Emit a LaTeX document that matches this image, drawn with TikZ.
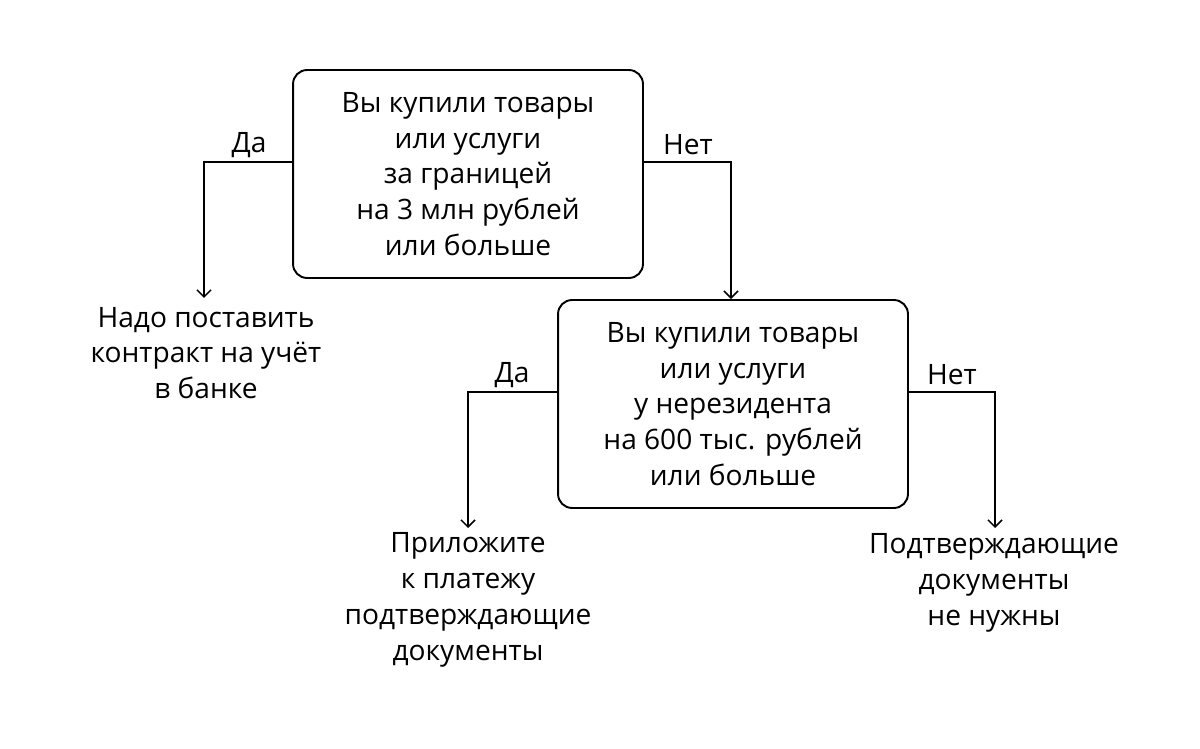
\documentclass[tikz,border=0pt]{standalone}
\usepackage{fontspec}
\setmainfont{Open Sans}
\usetikzlibrary{arrows.meta}
\begin{document}
\begin{tikzpicture}[x=0.02cm,y=-0.02cm,
  qbox/.style={draw,line width=1.1pt,rounded corners=8pt,minimum width=7cm,minimum height=4.16cm,align=center,font=\fontsize{16}{20.4}\selectfont,inner sep=0pt},
  leaf/.style={align=center,font=\fontsize{16}{20.4}\selectfont,inner sep=0pt},
  lbl/.style={font=\fontsize{16}{18}\selectfont,inner sep=0pt},
  conn/.style={line width=0.9pt,-{Straight Barb[length=4pt,width=8pt]}}]
\useasboundingbox (0,0) rectangle (1200,749);
\node[qbox] (q1) at (468,174) {Вы купили товары\\или услуги\\за границей\\на 3 млн рублей\\или больше};
\node[qbox] (q2) at (733,404) {Вы купили товары\\или услуги\\у нерезидента\\на 600 тыс. рублей\\или больше};
\node[leaf] (l1) at (206,353) {Надо поставить\\контракт на учёт\\в банке};
\node[leaf] (l2) at (468,600) {Приложите\\к платежу\\подтверждающие\\документы};
\node[leaf] (l3) at (994,583) {Подтверждающие\\документы\\не нужны};
\coordinate (t1) at (204,298);
\coordinate (t3) at (468,528);
\coordinate (t4) at (995,528);
\draw[conn] (q1.west |- 0,162) -| (t1);
\draw[conn] (q1.east |- 0,162) -| (q2.north -| 731,0);
\draw[conn] (q2.west |- 0,392) -| (t3);
\draw[conn] (q2.east |- 0,392) -| (t4);
\node[lbl] (d1) at (249,145) {Да};
\node[lbl] (n1) at (688,145) {Нет};
\node[lbl] (d2) at (512,375) {Да};
\node[lbl] (n2) at (952,375) {Нет};
\end{tikzpicture}
\end{document}
